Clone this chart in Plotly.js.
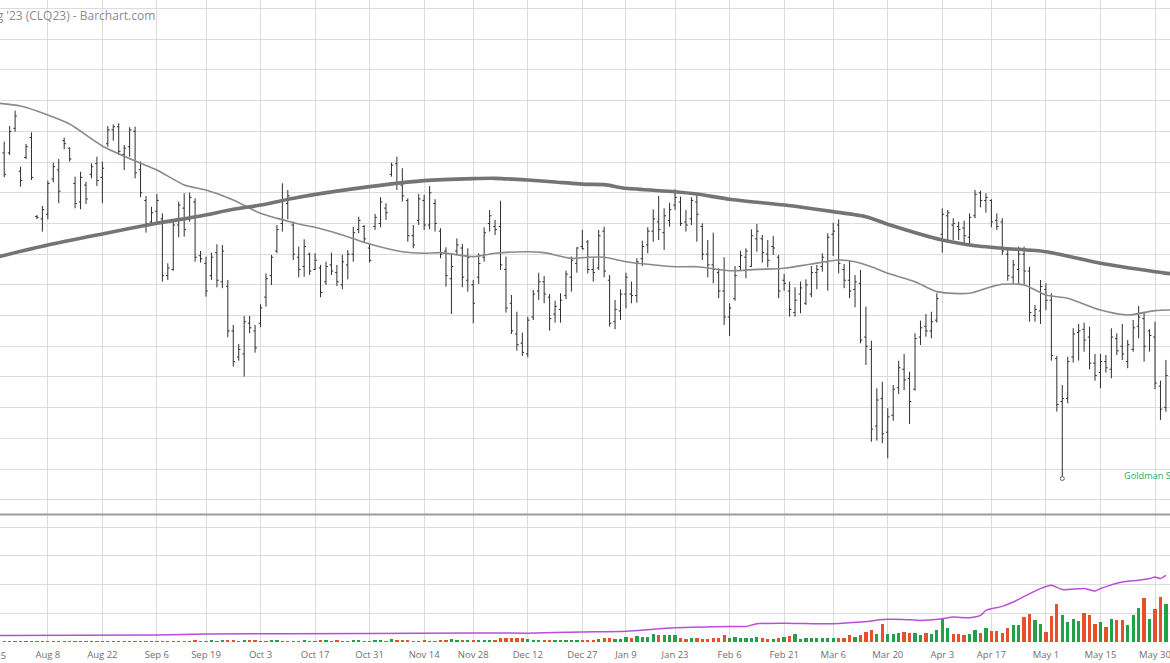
<!DOCTYPE html>
<html><head><meta charset="utf-8">
<script src="https://cdn.plot.ly/plotly-3.0.1.min.js"></script>
<style>html,body{margin:0;padding:0;background:#fff;overflow:hidden}#chart{width:1170px;height:663px}</style>
</head><body><div id="chart"></div>
<script>
// Crude Oil WTI Aug '23 (CLQ23) daily bars; session 0 = Jul 25 2022 (trading-day index)
const firstSession = 2;
const opens = [84.60,84.60,86.20,83.40,84.30,85.60,80.45,80.30,80.60,82.90,
83.50,85.40,84.90,82.60,81.40,82.50,83.20,83.90,83.00,85.20,
86.10,86.30,84.50,85.00,86.00,83.50,81.50,80.10,80.80,80.30,
76.60,77.00,79.90,81.00,80.30,81.40,77.90,77.40,76.60,78.10,
76.20,75.90,73.00,71.30,71.50,73.50,73.00,73.50,75.20,76.60,
78.20,80.00,81.30,79.90,77.80,77.20,78.00,77.00,77.10,76.20,
77.30,76.80,76.00,77.30,78.00,79.60,79.80,78.40,79.80,80.00,
81.00,83.20,83.90,82.50,81.50,79.20,80.20,81.50,79.90,81.30,
79.50,78.20,76.40,78.20,78.40,76.30,76.00,76.50,77.80,80.00,
79.80,79.80,77.00,74.80,72.80,72.20,71.50,73.90,75.60,76.20,
75.20,74.10,74.40,75.30,76.50,77.40,78.50,78.80,77.00,77.10,
79.50,76.30,73.60,74.30,75.40,75.40,75.30,77.70,78.60,79.50,
80.10,79.40,80.20,81.20,81.40,80.10,80.30,81.40,79.80,78.00,
77.30,76.80,75.60,73.90,75.10,77.20,77.80,77.20,79.00,79.00,
78.00,78.50,77.80,76.30,75.60,74.20,75.40,74.80,75.40,76.80,
77.20,77.50,79.30,79.90,77.00,76.30,75.70,76.10,72.60,71.80,
66.80,68.60,66.40,67.50,69.30,70.50,69.90,69.20,72.60,73.30,
73.00,73.70,79.30,80.50,79.90,79.80,79.70,79.10,80.50,82.00,
81.50,81.50,80.20,80.10,78.00,76.50,77.00,78.00,76.90,74.00,
74.30,75.70,75.00,71.20,68.40,68.60,71.30,72.90,73.10,72.60,
70.90,70.30,71.00,70.50,72.50,72.00,71.00,71.80,73.30,73.80,
73.00,72.60,69.40,68.00];
const highs = [85.33,86.35,87.35,83.70,85.18,85.94,80.55,81.14,82.79,83.96,
84.20,85.59,84.96,83.05,83.37,82.72,83.92,84.35,84.03,86.35,
86.46,86.53,85.11,86.27,86.31,84.03,81.79,81.09,81.92,80.66,
77.41,80.18,81.42,81.97,82.01,81.64,78.21,77.84,78.10,78.64,
78.60,76.32,73.39,72.15,73.97,73.97,73.39,74.74,76.75,77.95,
79.90,82.62,82.18,80.12,78.49,78.97,78.10,78.06,77.30,77.51,
78.10,77.30,77.95,78.27,79.79,80.44,79.90,78.71,80.62,81.71,
81.32,83.96,84.35,83.60,81.64,79.90,81.92,81.86,82.44,81.58,
79.69,78.45,78.06,79.03,78.66,78.38,76.32,78.06,79.75,80.88,
80.23,81.48,77.84,75.34,74.25,72.89,73.93,75.67,76.79,76.58,
75.41,74.97,75.45,76.92,77.84,78.45,79.58,78.92,77.73,79.58,
79.79,76.64,75.02,75.71,76.79,76.21,77.73,78.88,79.75,80.92,
81.79,80.99,81.35,82.23,81.75,80.88,81.71,81.86,80.01,78.92,
79.40,77.08,77.80,74.80,77.23,78.23,78.38,79.62,79.97,79.25,
78.92,79.19,77.95,76.71,76.21,75.84,76.21,76.36,77.23,77.30,
78.06,79.36,80.05,80.27,77.36,77.58,76.64,76.97,74.58,72.36,
69.26,69.69,67.96,69.48,71.06,71.50,70.34,72.85,73.67,74.10,
74.25,75.45,80.99,80.88,80.34,80.12,80.18,80.66,82.18,82.14,
81.97,81.58,80.66,80.34,78.27,77.62,78.49,78.49,77.18,74.69,
76.32,76.10,75.45,71.37,69.48,71.32,73.17,73.45,73.54,73.28,
71.50,71.50,71.43,73.17,72.85,73.45,72.41,73.71,74.62,74.25,
73.11,73.60,69.76,71.11];
const lows = [83.01,84.46,85.98,82.40,84.20,82.83,80.29,79.47,80.27,82.68,
81.32,84.83,84.03,80.99,80.92,81.27,82.94,82.44,81.32,85.00,
85.39,84.46,83.48,84.35,82.94,81.71,79.40,79.90,79.90,76.21,
76.32,76.92,79.10,79.14,80.12,77.51,77.45,75.23,76.32,75.84,
75.78,72.59,70.67,71.06,70.02,72.85,71.58,73.24,74.58,75.99,
78.06,79.47,80.27,77.62,76.49,76.53,76.64,76.97,75.19,75.99,
76.64,75.93,75.71,76.36,77.51,79.36,78.75,77.45,79.58,79.75,
80.23,83.05,82.18,81.42,78.81,78.38,79.90,79.58,79.62,79.47,
77.73,75.88,74.10,77.95,75.84,75.56,73.50,76.06,77.51,79.47,
79.25,76.97,74.19,72.80,71.71,71.37,71.28,73.71,75.02,74.80,
73.02,73.54,73.54,75.06,75.56,76.79,78.30,76.75,76.21,76.97,
76.49,73.28,73.11,73.71,74.47,74.80,74.84,77.23,78.06,78.81,
78.92,78.27,79.79,80.88,79.84,79.47,79.90,78.81,77.62,76.49,
76.10,75.13,73.39,72.67,74.97,76.97,76.43,77.18,78.16,77.45,
77.15,77.95,75.13,75.62,73.93,73.93,74.15,74.69,75.19,75.71,
76.86,75.62,77.88,76.75,75.78,75.13,74.54,72.19,70.78,65.78,
65.85,65.68,64.70,67.15,68.89,69.15,66.94,69.11,72.08,72.62,
72.52,73.54,78.10,78.92,78.92,78.92,78.71,78.53,80.34,81.05,
80.70,79.75,79.58,77.95,76.27,76.10,76.06,75.99,73.60,73.60,
73.45,74.36,71.06,67.74,63.50,68.28,70.93,71.06,71.65,70.50,
69.76,69.26,70.28,69.91,71.43,71.11,70.57,71.65,72.52,71.00,
71.65,69.20,67.20,67.74];
const closes = [83.20,86.00,87.00,82.80,85.00,83.00,80.40,80.90,82.60,83.70,
82.10,85.20,84.20,81.30,83.00,81.60,83.70,82.80,83.60,86.10,
86.30,84.70,84.90,86.10,83.30,82.00,80.00,80.70,81.50,76.60,
77.10,79.90,81.20,79.60,81.70,77.80,77.70,75.60,77.80,76.30,
78.20,73.00,71.00,71.80,73.60,73.20,71.90,74.50,76.40,77.80,
79.60,81.50,81.80,78.00,77.00,78.50,76.90,77.60,75.50,77.20,
76.90,76.20,77.50,78.00,79.40,80.20,79.00,77.60,80.40,81.40,
80.70,83.80,82.60,81.80,79.20,78.60,81.60,79.90,82.00,80.00,
78.00,76.60,77.20,78.60,76.50,77.80,74.80,77.40,79.40,80.50,
79.60,77.30,74.50,73.00,72.10,71.60,73.70,75.40,76.20,75.40,
73.80,74.60,75.00,76.70,77.60,78.40,78.35,77.00,76.80,79.20,
76.90,73.50,74.40,75.40,76.50,75.30,77.50,78.50,79.50,80.30,
79.60,80.50,80.90,81.70,80.00,79.90,81.50,80.60,78.00,77.30,
77.00,75.60,73.90,74.50,76.60,77.90,78.20,79.20,79.50,78.10,
77.60,78.40,75.60,76.10,74.40,75.00,75.80,76.00,76.80,77.00,
77.80,79.10,79.50,77.40,76.30,75.60,76.20,72.40,72.00,66.60,
68.50,66.30,67.40,69.20,70.60,69.80,68.40,72.50,73.20,73.00,
73.60,75.10,80.60,80.70,80.00,79.60,79.20,80.40,81.90,81.50,
81.70,80.10,79.80,78.20,76.60,77.30,78.00,76.90,74.20,74.40,
75.90,75.00,71.40,68.20,68.60,71.00,72.80,73.00,72.40,70.90,
70.10,71.00,70.60,72.60,71.70,71.50,72.10,73.20,73.90,72.00,
72.70,69.60,67.90,70.10];
// volume, thousands of contracts
const volumes = [0.6,0.5,0.6,0.7,0.5,0.6,0.5,0.6,0.7,0.5,0.6,0.6,0.5,0.7,0.6,0.5,0.6,0.7,0.8,
0.8,0.7,0.6,0.9,0.8,1.0,0.9,0.7,0.8,0.9,0.7,0.6,0.8,0.7,0.9,1.0,1.1,0.9,1.0,1.2,
1.0,1.1,1.3,1.2,0.9,1.4,1.1,1.2,1.0,0.9,1.1,1.2,0.9,1.0,0.8,0.9,1.1,0.8,1.0,1.3,
1.1,0.9,1.2,0.9,1.0,1.3,1.1,0.9,1.0,1.1,1.2,1.0,1.8,1.3,1.4,1.2,1.0,0.9,1.1,1.0,
1.0,1.3,1.6,2.3,1.5,1.4,1.3,1.6,1.4,1.5,1.2,1.3,2.6,2.9,2.8,3.0,2.7,2.4,1.6,1.4,1.5,1.3,1.4,1.6,1.2,1.4,1.5,
1.2,1.2,1.2,1.9,3.0,2.8,2.3,2.3,3.5,3.0,4.4,3.5,3.5,5.4,4.9,4.9,4.9,4.7,3.0,1.9,
2.6,2.6,2.1,2.1,2.8,2.8,5.1,3.0,3.5,2.6,2.8,2.8,3.7,2.6,1.9,2.3,2.6,3.5,4.0,5.8,
2.3,2.6,2.6,2.6,2.6,3.0,2.8,2.8,3.1,4.7,3.7,4.7,7.0,
8.6,5.8,12.8,5.8,5.8,6.3,7.2,6.5,6.3,4.7,6.3,5.8,8.6,16.2,9.8,5.8,5.8,5.1,5.8,8.6,
6.3,9.8,7.5,7.7,6.5,10.0,11.6,11.6,17.4,19.3,15.1,12.8,7.0,17.9,26.3,19.0,13.9,15.8,14.4,20.4,
19.0,12.8,13.9,10.5,15.8,15.1,15.1,12.1,18.6,23.9,30.9,15.8,23.2,31.4,26.7];
// open interest (thousands), read at sample sessions
const oiSessions = [1,30,39,69,88,98,108,116,125,135,138,140,145,154,159,161,163,167,170,174,176,179,181,182,185,187,190,192,194,196,200,202,203,207,210,212,213,214,215];
const oiValues = [13,14,16,17,18,17.6,20,21.6,28.4,31,31,36.4,37.6,36.4,39.6,42,45,45,43,46.4,49.6,48.4,53,63,71,79.6,96.4,106.4,113,104.4,106.4,101.6,106.4,119.6,123,126.4,129.6,126.4,133];
// moving averages read at sample sessions
const maSlowSessions = [1,10,20,30,38,44,49,56,69,79,88,92,98,103,109,112,116,125,129,135,145,154,160,164,174,179,185,193,203,213,216];
const maSlowValues = [77.84,78.60,79.32,80.01,80.49,80.92,81.20,81.71,82.40,82.79,82.92,82.94,82.83,82.70,82.55,82.53,82.29,82.07,81.92,81.58,81.20,80.77,80.44,79.95,78.92,78.60,78.38,78.16,77.41,76.86,76.72];
const maFastSessions = [1,5,10,14,20,27,30,35,39,44,49,56,59,64,69,75,79,82,88,92,98,101,106,109,112,116,120,125,129,135,140,145,150,155,158,161,164,169,173,179,183,185,189,193,197,203,208,213,216];
const maFastValues = [87.83,87.65,87.07,86.48,85.05,83.92,83.48,82.51,82.18,81.53,80.66,79.97,79.75,79.25,78.66,78.16,78.06,78.10,77.84,78.06,78.16,78.10,77.73,77.80,77.80,77.51,77.34,77.18,77.18,76.92,77.01,77.08,77.36,77.62,77.51,77.18,76.75,76.21,75.56,75.45,75.88,76.04,75.99,75.34,75.13,74.36,74.04,74.32,74.36];
const tickSessions = [10,20,30,39,49,59,69,79,88,98,108,116,125,135,145,154,164,174,183,193,203,213];
const tickLabels = ["Aug 8","Aug 22","Sep 6","Sep 19","Oct 3","Oct 17","Oct 31","Nov 14","Nov 28","Dec 12","Dec 27","Jan 9","Jan 23","Feb 6","Feb 21","Mar 6","Mar 20","Apr 3","Apr 17","May 1","May 15","May 30"];
const edgeTickLabel = "Jul 25";   // session 0, just left of the visible window
const newsSession = 196;
const newsText = "Goldman Sachs";
const titleText = "Crude Oil WTI Aug '23 (CLQ23) - Barchart.com";

const sessions = opens.map((_, i) => firstSession + i);
const UP = '#21a24a', DOWN = '#e8502c';
const volColors = closes.map((c, i) => (i === 0 ? c >= opens[0] : c >= closes[i - 1]) ? UP : DOWN);
const tickFont = {family:'Open Sans, sans-serif', size:9.5, color:'#707070'};
const xRange = [1.23, 215.75];
const plotW = 1170, plotH = 642;

const traces = [
  {type:'bar', x:sessions, y:volumes, width:0.6, marker:{color:volColors, line:{width:0}}, xaxis:'x', yaxis:'y2', hoverinfo:'skip'},
  {type:'scatter', mode:'lines', x:oiSessions, y:oiValues, line:{color:'#b94fd6', width:1.5, shape:'spline', smoothing:0.6}, xaxis:'x', yaxis:'y3', hoverinfo:'skip'},
  {type:'ohlc', x:sessions, open:opens, high:highs, low:lows, close:closes, tickwidth:0.33,
   increasing:{line:{color:'#2e2e2e', width:1}}, decreasing:{line:{color:'#2e2e2e', width:1}}, xaxis:'x', yaxis:'y', hoverinfo:'skip'},
  {type:'scatter', mode:'lines', x:maFastSessions, y:maFastValues, line:{color:'#8a8a8a', width:1.6, shape:'spline', smoothing:0.7}, xaxis:'x', yaxis:'y', hoverinfo:'skip'},
  {type:'scatter', mode:'lines', x:maSlowSessions, y:maSlowValues, line:{color:'#747474', width:3.6, shape:'spline', smoothing:0.7}, xaxis:'x', yaxis:'y', hoverinfo:'skip'},
  {type:'scatter', mode:'markers', x:[newsSession], y:[lows[newsSession - firstSession] - 0.12], marker:{symbol:'circle-open', size:4, color:'#666', line:{width:1}}, xaxis:'x', yaxis:'y', hoverinfo:'skip'}
];

// paper position of session 0 (left of the visible window)
const edgeX = (0 - xRange[0]) / (xRange[1] - xRange[0]);

const layout = {
  width:1170, height:663,
  margin:{l:0, r:0, t:0, b:21, pad:0},
  paper_bgcolor:'#ffffff', plot_bgcolor:'#ffffff',
  showlegend:false, bargap:0,
  xaxis:{range:xRange, tickmode:'array', tickvals:tickSessions, ticktext:tickLabels,
    showgrid:true, gridcolor:'#dcdcdc', gridwidth:1, zeroline:false, showline:false, ticks:'',
    ticklabelstandoff:5, ticklabeloverflow:'allow',
    tickfont:tickFont,
    rangeslider:{visible:false}, anchor:'y2', fixedrange:true},
  yaxis:{domain:[(plotH - 514) / plotH, 1], range:[61.07, 94.56], tick0:0, dtick:2,
    showticklabels:false, showgrid:true, gridcolor:'#dcdcdc', gridwidth:1, zeroline:false, ticks:'', fixedrange:true},
  yaxis2:{domain:[0, (plotH - 515) / plotH], range:[0, 88.5], tick0:0, dtick:20,
    showticklabels:false, showgrid:true, gridcolor:'#dcdcdc', gridwidth:1, zeroline:false, ticks:'', fixedrange:true},
  yaxis3:{overlaying:'y2', range:[0, 253], visible:false, showgrid:false, fixedrange:true},
  shapes:[{type:'line', xref:'paper', yref:'paper', x0:0, x1:1, y0:(plotH - 514.5) / plotH, y1:(plotH - 514.5) / plotH,
    line:{color:'#9c9c9c', width:2}}],
  annotations:[
    {text:titleText, xref:'paper', yref:'paper', x:157 / plotW, y:(plotH - 15.5) / plotH, xanchor:'right', yanchor:'middle',
     showarrow:false, font:{family:'Open Sans, sans-serif', size:12, color:'#8c8c8c'}},
    {text:newsText, xref:'paper', yref:'paper', x:1121.5 / plotW, y:(plotH - 475.7) / plotH, xanchor:'left', yanchor:'middle',
     showarrow:false, font:{family:'Open Sans, sans-serif', size:9.2, color:'#2aa866'}},
    {text:edgeTickLabel, xref:'paper', yref:'paper', x:edgeX, y:-(655 - plotH) / plotH, xanchor:'center', yanchor:'middle',
     showarrow:false, font:tickFont}
  ]
};
Plotly.newPlot('chart', traces, layout, {staticPlot:true, displayModeBar:false});
</script>
</body></html>
